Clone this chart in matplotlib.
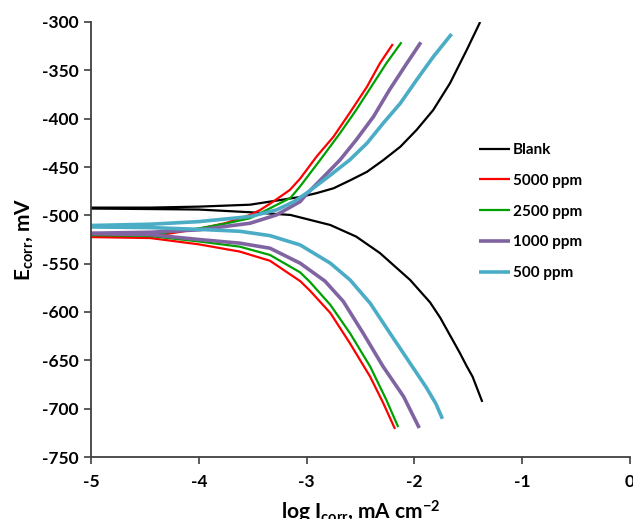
import matplotlib
matplotlib.use("Agg")
import matplotlib.pyplot as plt

plt.rcParams['font.family'] = ['Lato', 'DejaVu Sans']
plt.rcParams['font.weight'] = 'bold'
plt.rcParams['axes.unicode_minus'] = False
plt.rcParams['mathtext.fontset'] = 'custom'
plt.rcParams['mathtext.rm'] = 'Lato:bold'
plt.rcParams['mathtext.it'] = 'Lato:bold'
plt.rcParams['mathtext.bf'] = 'Lato:bold'

labels = ["Blank", "5000 ppm", "2500 ppm", "1000 ppm", "500 ppm"]
colors = ["#000000", "#FF0000", "#00A000", "#8064A2", "#4BACC6"]
widths = [1.6, 1.6, 1.6, 2.6, 2.6]

# anodic (upper) and cathodic (lower) branches: log I (mA cm-2), E (mV)
blank_an_x = [-5, -4.45, -4.0, -3.525, -3.06, -2.906, -2.75, -2.60, -2.44, -2.29, -2.13, -1.98, -1.825, -1.67, -1.515, -1.39]
blank_an_y = [-492, -492, -491, -489, -481, -477, -472, -464, -455, -443, -429, -411.7, -391, -363.4, -329, -300]
blank_ca_x = [-5, -4.45, -4.0, -3.525, -3.15, -2.78, -2.54, -2.32, -2.04, -1.855, -1.76, -1.67, -1.58, -1.515, -1.46, -1.37]
blank_ca_y = [-493, -493.5, -494, -496.8, -499.6, -510, -522, -539, -566.8, -590, -606, -624, -642, -656, -667, -693]

r5000_an_x = [-5, -4.45, -4.0, -3.75, -3.525, -3.43, -3.31, -3.155, -3.06, -2.906, -2.75, -2.60, -2.44, -2.32, -2.20]
r5000_an_y = [-522, -522, -514, -508, -499.6, -494.4, -485.8, -473.7, -462, -439, -418.6, -394, -367, -342.7, -322.8]
r5000_ca_x = [-5, -4.45, -4.0, -3.62, -3.34, -3.06, -2.968, -2.78, -2.60, -2.41, -2.29, -2.18]
r5000_ca_y = [-522.5, -523.5, -530, -537.5, -547, -568, -578, -601, -632, -667, -694, -721]

r2500_an_x = [-5, -4.45, -4.0, -3.75, -3.525, -3.43, -3.15, -3.06, -2.876, -2.69, -2.54, -2.38, -2.26, -2.12]
r2500_an_y = [-520, -520, -513.5, -508.5, -503, -497.8, -482, -470, -443, -415, -391, -363.4, -342.7, -321]
r2500_ca_x = [-5, -4.45, -4.0, -3.62, -3.34, -3.06, -2.968, -2.78, -2.597, -2.41, -2.26, -2.15]
r2500_ca_y = [-520.5, -521.5, -527, -532.4, -541, -559, -569, -592.6, -622, -656.5, -691, -719]

r1000_an_x = [-5, -4.45, -4.0, -3.525, -3.28, -3.06, -3.0, -2.876, -2.69, -2.54, -2.38, -2.23, -2.07, -1.94]
r1000_an_y = [-518.5, -517.5, -515, -508.2, -499.6, -485.8, -478, -464, -442.7, -422, -398, -370, -342.7, -321]
r1000_ca_x = [-5, -4.45, -4.0, -3.62, -3.34, -3.06, -2.83, -2.66, -2.475, -2.29, -2.10, -1.955]
r1000_ca_y = [-519, -520, -525, -528.8, -534, -549.5, -568, -589, -622, -656.5, -687.5, -720]

r500_an_x = [-5, -4.45, -4.0, -3.525, -3.28, -3.12, -3.0, -2.81, -2.60, -2.44, -2.29, -2.13, -1.98, -1.825, -1.655]
r500_an_y = [-510.5, -509.2, -506.5, -501.3, -494.4, -486, -477, -461, -442.7, -425.4, -404.8, -384, -360, -336, -312.4]
r500_ca_x = [-5, -4.45, -4.0, -3.62, -3.34, -3.06, -2.78, -2.597, -2.41, -2.226, -2.04, -1.89, -1.80, -1.74]
r500_ca_y = [-512, -512.7, -514.5, -516.5, -521, -530.6, -549.5, -566.8, -591, -622, -653, -678, -695, -710.5]

series = [
    (blank_an_x, blank_an_y, blank_ca_x, blank_ca_y),
    (r5000_an_x, r5000_an_y, r5000_ca_x, r5000_ca_y),
    (r2500_an_x, r2500_an_y, r2500_ca_x, r2500_ca_y),
    (r1000_an_x, r1000_an_y, r1000_ca_x, r1000_ca_y),
    (r500_an_x, r500_an_y, r500_ca_x, r500_ca_y),
]

x_ticks = [-5, -4, -3, -2, -1, 0]
y_ticks = [-750, -700, -650, -600, -550, -500, -450, -400, -350, -300]

fig = plt.figure(figsize=(6.33, 5.19), dpi=100)
ax = fig.add_axes([91/633, 1-457/519, 539/633, 435/519])

for (an_x, an_y, ca_x, ca_y), lab, c, lw in zip(series, labels, colors, widths):
    xs = list(reversed(ca_x)) + list(an_x)
    ys = list(reversed(ca_y)) + list(an_y)
    ax.plot(xs, ys, color=c, lw=lw, label=lab, solid_capstyle='butt', solid_joinstyle='round')

ax.set_xlim(-5, 0)
ax.set_ylim(-750, -300)
ax.set_xticks(x_ticks)
ax.set_yticks(y_ticks)
ax.set_xticklabels([str(v) for v in x_ticks])
ax.set_yticklabels([str(v) for v in y_ticks])
for s in ['top', 'right']:
    ax.spines[s].set_visible(False)
for s in ['left', 'bottom']:
    ax.spines[s].set_color('#404040')
    ax.spines[s].set_linewidth(1.3)
ax.tick_params(direction='out', length=5, width=1.2, color='#404040', labelsize=12.5)
ax.tick_params(axis='x', pad=7)
ax.tick_params(axis='y', pad=4)
for t in ax.get_xticklabels() + ax.get_yticklabels():
    t.set_fontweight('bold')

ax.set_xlabel(r'log I$_{corr}$, mA cm$^{-2}$', fontsize=15, fontweight='bold')
ax.xaxis.set_label_coords(0.5, -(499-457)/435)
ax.set_ylabel(r'E$_{corr}$, mV', fontsize=15, fontweight='bold')
ax.yaxis.set_label_coords((35-91)/539, 0.5)

leg = ax.legend(loc='upper left', bbox_to_anchor=((479-91)/539, (457-143)/435), frameon=False,
                handlelength=2.0, handletextpad=0.2, labelspacing=1.1, borderpad=0,
                borderaxespad=0,
                prop={'family': 'Lato', 'weight': 'bold', 'size': 11})

fig.savefig('out.png', dpi=100)
